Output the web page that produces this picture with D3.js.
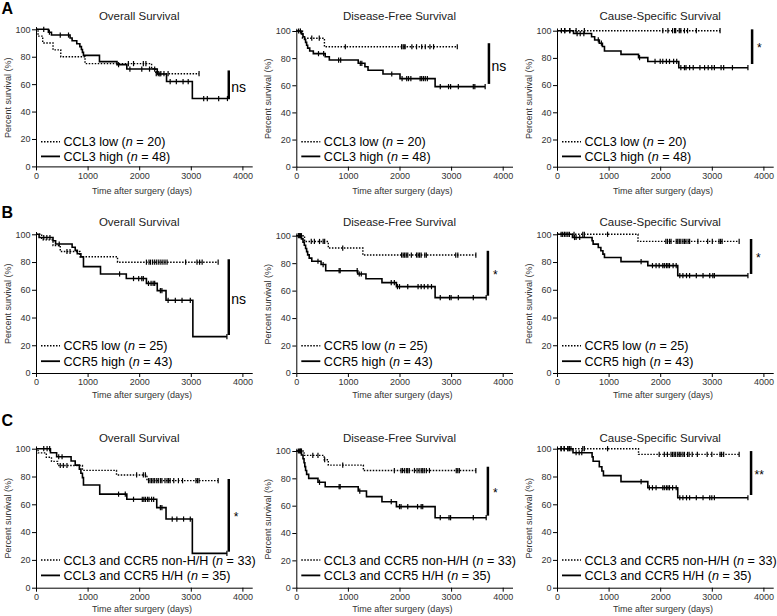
<!DOCTYPE html>
<html><head><meta charset="utf-8">
<script src="https://cdn.jsdelivr.net/npm/d3@7"></script>
<style>
body{margin:0;background:#fff}
svg{display:block}
text{font-family:"Liberation Sans",Arial,Helvetica,sans-serif}
</style>
</head><body>
<svg id="chart" width="777" height="616"></svg>
<script>
// ---------- DATA ----------
const xTicks = [0, 1000, 2000, 3000, 4000];
const yTicks = [0, 20, 40, 60, 80, 100];
const panelTitles = ["Overall Survival", "Disease-Free Survival", "Cause-Specific Survival"];
const rowLetters = ["A", "B", "C"];
const yLabel = "Percent survival (%)";
const xLabel = "Time after surgery (days)";
const legendLow = [["CCL3 low (", "n", " = 20)"], ["CCR5 low (", "n", " = 25)"], ["CCL3 and CCR5 non-H/H (", "n", " = 33)"]];
const legendHigh = [["CCL3 high (", "n", " = 48)"], ["CCR5 high (", "n", " = 43)"], ["CCL3 and CCR5 H/H (", "n", " = 35)"]];

// Row A: CCL3
const a1LowSteps = [[40,95],[130,90],[330,85],[480,80],[950,75],[2240,71.1],[2320,67.6]];
const a1LowCensor = [1790,1890,2080,2130,2330,2370,2420,2480,2560,3160];
const a1HighSteps = [[240,97.9],[300,95.8],[660,93.7],[700,91.6],[790,89.5],[850,87.4],[880,85.3],[900,83.2],[920,81.0],[1230,76.4],[1570,74.2],[1760,71.0],[2350,67.4],[2530,61.9],[3030,49.5]];
const a1HighCensor = [150,260,470,630,1600,1820,2050,2200,2300,2400,2600,2720,2850,2950,3250,3320,3540,3710];

const a2LowSteps = [[120,94.7],[545,88.4]];
const a2LowCensor = [300,445,950,2040,2070,2090,2110,2240,2330,2430,2500,2590,2660,3120];
const a2HighSteps = [[100,97.9],[130,95.8],[160,93.7],[180,91.6],[200,89.5],[220,87.4],[260,85.3],[330,83.3],[560,81.0],[640,78.6],[1200,76.2],[1330,73.7],[1390,71.1],[1680,68.3],[2010,64.9],[2690,59.0]];
const a2HighCensor = [45,80,430,530,820,860,1240,1270,1850,2050,2140,2175,2220,2400,2430,2465,2500,2540,2790,2950,2990,3140,3430,3460,3660];

const a3LowSteps = [];
const a3LowCensor = [150,250,370,530,2050,2150,2240,2280,2300,2370,2400,2470,2530,2700,3160];
const a3HighSteps = [[320,97.9],[670,95.6],[730,93.2],[820,90.8],[880,88.4],[920,85.1],[1240,82.6],[1580,80.2],[1760,77.4],[2360,72.8]];
const a3HighCensor = [85,150,245,390,450,520,800,860,1600,1900,2000,2050,2120,2180,2260,2320,2400,2470,2500,2570,2640,2770,2860,2930,3000,3050,3180,3230,3400,3700];

// Row B: CCR5
const b1LowSteps = [[110,96],[330,91.9],[470,87.6],[850,83.8],[1580,79.9]];
const b1LowCensor = [600,660,2140,2190,2220,2260,2300,2340,2380,2420,2460,2500,2540,2900,3120,3170,3220,3530];
const b1HighSteps = [[60,97.7],[330,95.3],[380,93.0],[700,90.7],[760,88.4],[800,86.0],[870,83.7],[920,76.7],[1250,71.4],[1750,68.1],[2140,64.6],[2350,59.4],[2520,52.4],[3040,26.2]];
const b1HighCensor = [150,210,270,450,1620,1890,1990,2050,2080,2180,2230,2270,2300,2410,2440,2560,2700,2830,2990,3700];

const b2LowSteps = [[160,95.8],[620,91.0],[1290,85.9]];
const b2LowCensor = [65,100,290,350,450,520,550,900,2040,2070,2100,2130,2160,2230,2330,2360,2390,2420,2490,2520,3090,3130,3480];
const b2HighSteps = [[100,97.7],[130,95.3],[155,93.0],[180,90.7],[200,88.4],[220,86.0],[250,83.7],[300,81.4],[480,79.0],[570,74.5],[1190,72.1],[1350,68.6],[1660,65.8],[1940,62.9],[2690,54.9]];
const b2HighCensor = [40,80,420,520,830,850,1180,1220,1260,1840,1900,1960,2000,2160,2360,2420,2480,2550,2620,2790,2970,3000,3140,3430,3680];

const b3LowSteps = [[1570,94.9]];
const b3LowCensor = [110,175,240,330,500,530,980,2110,2140,2180,2210,2310,2340,2370,2400,2440,2470,2500,2540,2570,2730,2920,3010,3140,3170,3200,3530];
const b3HighSteps = [[300,97.7],[680,95.3],[700,92.9],[800,90.5],[850,88.1],[890,85.7],[920,83.3],[1240,80.3],[1760,77.4],[2340,70.2]];
const b3HighCensor = [80,145,210,340,370,440,1630,1850,1920,1980,2050,2080,2120,2150,2180,2250,2310,2380,2440,2510,2570,2700,2830,2960,3020,3050,3700];

// Row C: combined
const c1LowSteps = [[40,97.0],[200,93.9],[300,90.9],[420,87.9],[900,84.4],[1560,81.1],[2150,77.0]];
const c1LowCensor = [470,530,600,1950,2080,2120,2180,2210,2240,2270,2300,2340,2370,2410,2440,2500,2540,2570,2600,2670,2760,2840,3100,3130,3160,3530];
const c1HighSteps = [[280,97.1],[400,94.2],[680,91.2],[760,88.2],[840,85.3],[870,82.3],[900,79.2],[920,73.9],[1235,67.3],[1760,63.6],[2340,57.6],[2520,49.4],[3030,24.7]];
const c1HighCensor = [150,215,265,440,505,1600,1730,1890,2060,2090,2120,2160,2190,2240,2280,2410,2440,2640,2730,2860,2990,3700];

const c2LowSteps = [[150,96.8],[540,93.6],[620,89.7],[1300,85.7]];
const c2LowCensor = [65,100,320,420,550,900,1900,2030,2060,2100,2140,2160,2190,2290,2340,2380,2420,2450,2480,2520,2580,3100,3130,3160,3480];
const c2HighSteps = [[100,97.1],[130,94.3],[150,91.4],[165,88.6],[180,85.7],[200,82.9],[240,80.0],[420,77.1],[560,73.9],[1200,70.7],[1360,66.6],[1660,62.9],[1940,59.3],[2690,51.2]];
const c2HighCensor = [40,80,450,830,850,1230,1840,2000,2030,2160,2350,2420,2450,2790,2960,2990,3430,3680];

const c3LowSteps = [[1580,95.9]];
const c3LowCensor = [80,140,210,240,270,500,530,980,1980,2080,2140,2210,2240,2270,2300,2340,2370,2400,2440,2470,2530,2560,2620,2720,2910,3000,3160,3190,3230,3530];
const c3HighSteps = [[310,97.1],[680,94.1],[700,91.0],[820,87.0],[870,84.0],[900,80.6],[1240,76.3],[1760,71.9],[2340,64.7]];
const c3HighCensor = [80,140,210,370,430,480,1630,1790,1850,1920,2050,2080,2120,2150,2180,2240,2310,2380,2440,2510,2570,2700,2830,2960,3000,3050,3700];

// significance brackets (day position, top %, bottom %, label)
const sigDay = [3736, 3733, 3781, 3736, 3713, 3761, 3736, 3713, 3761];
const sigTop = [70, 91, 101, 82, 89, 96.6, 78.2, 88.5, 98.3];
const sigBottom = [49, 61, 75.5, 27.4, 56.3, 71.4, 25.9, 52.7, 66.7];
const sigLabels = ["ns", "ns", "*", "ns", "*", "*", "*", "*", "**"];

// ---------- LAYOUT ----------
const colX0 = [36, 296.3, 557];
const px4000 = 206.4;
const panelY0 = [166.4, 166.7, 166.7, 373, 373, 373, 587.7, 587.7, 587.7];
const panelY100 = [29.3, 31, 30.7, 234.3, 235.7, 234.3, 448.7, 451, 448.7];
const titleBase = [20, 225.5, 441.5];
const xLabelBase = [194, 397.5, 612];
const letterBase = [13.8, 217.5, 425.5];
const legendRowY = [[141.8, 156.4], [345.8, 361.2], [560, 575.4]];

const curves = [
  [a1LowSteps,a1LowCensor,a1HighSteps,a1HighCensor],
  [a2LowSteps,a2LowCensor,a2HighSteps,a2HighCensor],
  [a3LowSteps,a3LowCensor,a3HighSteps,a3HighCensor],
  [b1LowSteps,b1LowCensor,b1HighSteps,b1HighCensor],
  [b2LowSteps,b2LowCensor,b2HighSteps,b2HighCensor],
  [b3LowSteps,b3LowCensor,b3HighSteps,b3HighCensor],
  [c1LowSteps,c1LowCensor,c1HighSteps,c1HighCensor],
  [c2LowSteps,c2LowCensor,c2HighSteps,c2HighCensor],
  [c3LowSteps,c3LowCensor,c3HighSteps,c3HighCensor]
];

const svg = d3.select("#chart");

rowLetters.forEach((L, r) => {
  svg.append("text").attr("x", 1.5).attr("y", letterBase[r])
    .attr("font-size", 16).attr("font-weight", "bold").attr("fill", "#000").text(L);
});

function survAt(steps, t) {
  let v = 100;
  for (const [st, sv] of steps) { if (st <= t) v = sv; }
  return v;
}

curves.forEach((cv, i) => {
  const r = Math.floor(i / 3), c = i % 3;
  const x0 = colX0[c];
  const x = d3.scaleLinear().domain([0, 4000]).range([x0, x0 + px4000]);
  const y = d3.scaleLinear().domain([0, 100]).range([panelY0[i], panelY100[i]]);
  const g = svg.append("g");

  // axes
  const xAxisScale = x.copy().domain([0, 4190]).range([x0, x(4190)]);
  const yAxisScale = y.copy().domain([0, 102]).range([panelY0[i], y(102)]);
  const xa = g.append("g").attr("transform", `translate(0,${panelY0[i]})`)
    .call(d3.axisBottom(xAxisScale).tickValues(xTicks).tickSize(4).tickSizeOuter(0).tickPadding(2).tickFormat(d3.format("d")));
  const ya = g.append("g").attr("transform", `translate(${x0},0)`)
    .call(d3.axisLeft(yAxisScale).tickValues(yTicks).tickSize(4).tickSizeOuter(0).tickPadding(1.5));
  [xa, ya].forEach(a => {
    a.selectAll("path.domain").attr("stroke", "#000").attr("stroke-width", 1);
    a.selectAll(".tick line").attr("stroke", "#000").attr("stroke-width", 1);
    a.selectAll(".tick text").attr("font-size", 9).attr("fill", "#333")
      .attr("font-family", '"Liberation Sans",Arial,sans-serif');
  });

  // titles & labels
  g.append("text").attr("x", x(2000)).attr("y", titleBase[r]).attr("text-anchor", "middle")
    .attr("font-size", 11.5).attr("fill", "#222").text(panelTitles[c]);
  g.append("text").attr("transform", `translate(${x0 - 28},${y(50)}) rotate(-90)`)
    .attr("text-anchor", "middle").attr("dominant-baseline", "central")
    .attr("font-size", 9).attr("fill", "#333").text(yLabel);
  g.append("text").attr("x", x0 + 106).attr("y", xLabelBase[r]).attr("text-anchor", "middle")
    .attr("font-size", 9).attr("fill", "#333").text(xLabel);

  // curves
  const line = d3.line().x(d => x(d[0])).y(d => y(d[1])).curve(d3.curveStepAfter);
  const groups = [
    {steps: cv[0], censor: cv[1], dash: "1.5,1.5", w: 1.4},
    {steps: cv[2], censor: cv[3], dash: null, w: 1.6}
  ];
  groups.forEach(gr => {
    const end = Math.max(d3.max(gr.censor), gr.steps.length ? gr.steps[gr.steps.length - 1][0] : 0);
    const pts = [[0, 100], ...gr.steps, [end, survAt(gr.steps, end)]];
    g.append("path").attr("d", line(pts)).attr("fill", "none").attr("stroke", "#000")
      .attr("stroke-width", gr.w).attr("stroke-dasharray", gr.dash);
    g.selectAll(null).data(gr.censor).enter().append("line")
      .attr("x1", d => x(d)).attr("x2", d => x(d))
      .attr("y1", d => y(survAt(gr.steps, d)) - 2.6).attr("y2", d => y(survAt(gr.steps, d)) + 2.6)
      .attr("stroke", "#000").attr("stroke-width", 1.2);
  });

  // significance bar
  const bx = x(sigDay[i]);
  g.append("line").attr("x1", bx).attr("x2", bx).attr("y1", y(sigTop[i])).attr("y2", y(sigBottom[i]))
    .attr("stroke", "#000").attr("stroke-width", 2.5);
  const mid = (y(sigTop[i]) + y(sigBottom[i])) / 2;
  if (sigLabels[i] === "ns") {
    g.append("text").attr("x", bx + 2.5).attr("y", mid + 2).attr("dominant-baseline", "central")
      .attr("font-size", 14).attr("fill", "#000").text(sigLabels[i]);
  } else {
    g.append("text").attr("x", bx + (sigLabels[i] === "**" ? 3.5 : 5)).attr("y", mid + 5.5)
      .attr("font-size", 12).attr("fill", "#000").text(sigLabels[i]);
  }

  // legend
  const legs = [{lab: legendLow[r], dash: "1.5,1.5", w: 1.6}, {lab: legendHigh[r], dash: null, w: 1.8}];
  legs.forEach((lg, k) => {
    const ly = legendRowY[r][k];
    g.append("line").attr("x1", x0 + 5).attr("x2", x0 + 24).attr("y1", ly).attr("y2", ly)
      .attr("stroke", "#000").attr("stroke-width", lg.w).attr("stroke-dasharray", lg.dash);
    const t = g.append("text").attr("x", x0 + 27.5).attr("y", ly + 4.5).attr("font-size", 12.6).attr("fill", "#000");
    t.append("tspan").text(lg.lab[0]);
    t.append("tspan").attr("font-style", "italic").text(lg.lab[1]);
    t.append("tspan").text(lg.lab[2]);
  });
});
</script>
</body></html>
